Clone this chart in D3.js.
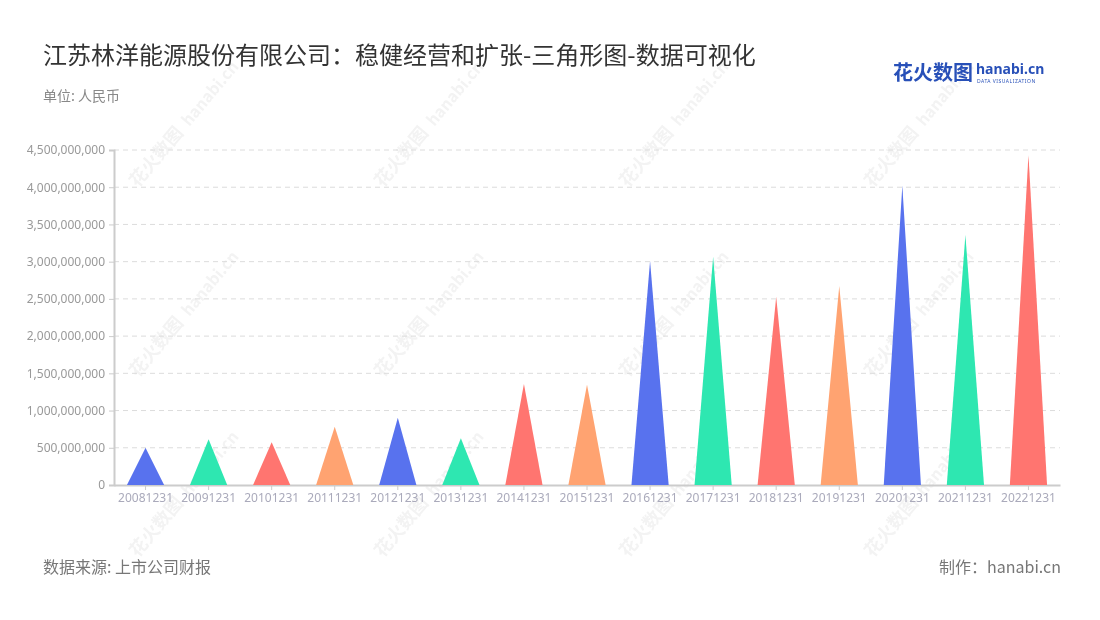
<!DOCTYPE html>
<html><head><meta charset="utf-8">
<script src="https://cdn.jsdelivr.net/npm/d3@7"></script>
<style>
body{margin:0;background:#fff;}
svg{display:block;font-family:"Noto Sans CJK SC","Noto Sans",sans-serif;}
</style></head>
<body><svg id="c" width="1100" height="620"></svg>
<script>
const categories = ["20081231","20091231","20101231","20111231","20121231","20131231","20141231","20151231","20161231","20171231","20181231","20191231","20201231","20211231","20221231"];
const values = [500000000,614000000,573000000,783000000,904000000,627000000,1357000000,1350000000,3009000000,3067000000,2530000000,2673000000,4020000000,3358000000,4433000000];
const yTicks = [0,500000000,1000000000,1500000000,2000000000,2500000000,3000000000,3500000000,4000000000,4500000000];
const palette = ["#5872ee","#2ee7b1","#ff7570","#ffa371"];
const titleText = "江苏林洋能源股份有限公司：稳健经营和扩张-三角形图-数据可视化";
const unitText = "单位: 人民币";
const sourceText = "数据来源: 上市公司财报";
const makerText = "制作：hanabi.cn";

const svg = d3.select("#c");
const m = {l:114, r:1060, t:150, b:485};

// watermarks
const wm = svg.append("g").attr("opacity",0.06);
[[170,150],[415,150],[660,150],[905,150],[170,340],[415,340],[660,340],[905,340],[170,520],[415,520],[660,520],[905,520]].forEach(([x,y])=>{
  const g = wm.append("g").attr("transform",`translate(${x},${y}) rotate(-50)`);
  g.append("text").attr("x",-50).attr("y",0).attr("font-size",18).attr("font-weight","bold").attr("fill","#333").text("花火数图");
  g.append("text").attr("x",30).attr("y",0).attr("font-size",16).attr("font-weight","bold").attr("fill","#333").text("hanabi.cn");
});

const x = d3.scaleBand().domain(categories).range([m.l,m.r]).paddingInner(0).paddingOuter(0);
const y = d3.scaleLinear().domain([0,4500000000]).range([m.b,m.t]);

// grid
svg.append("g").selectAll("line").data(yTicks.slice(1)).join("line")
  .attr("x1",m.l).attr("x2",m.r).attr("y1",d=>y(d)).attr("y2",d=>y(d))
  .attr("stroke","#dcdcdc").attr("stroke-dasharray","5,4");

// y axis
const ya = svg.append("g").attr("transform",`translate(${m.l},0)`)
  .call(d3.axisLeft(y).tickValues(yTicks).tickSize(5).tickPadding(4).tickFormat(d3.format(",")));
ya.select(".domain").attr("stroke","#cccccc").attr("stroke-width",2);
ya.selectAll(".tick line").attr("stroke","#cccccc");
ya.selectAll("text").attr("fill","#999").attr("font-size",12).attr("font-family","'Noto Sans',sans-serif");

// x axis
const xa = svg.append("g").attr("transform",`translate(0,${m.b})`)
  .call(d3.axisBottom(x).tickSize(5).tickPadding(3).tickSizeOuter(0));
xa.select(".domain").attr("stroke","#cccccc").attr("stroke-width",2);
xa.selectAll(".tick line").attr("stroke","#cccccc");
xa.selectAll("text").attr("fill","#aab").attr("font-size",12).attr("font-family","'Noto Sans',sans-serif");

// triangles
const bw = x.bandwidth()*0.59;
svg.append("g").selectAll("path").data(categories).join("path")
  .attr("d",(c,i)=>{
    const cx = x(c)+x.bandwidth()/2;
    return `M${cx-bw/2},${y(0)}L${cx},${y(values[i])}L${cx+bw/2},${y(0)}Z`;
  })
  .attr("fill",(c,i)=>palette[i%4]);

// titles
svg.append("text").attr("x",43).attr("y",64).attr("font-size",24).attr("fill","#333").text(titleText);
svg.append("text").attr("x",43).attr("y",101).attr("font-size",14).attr("fill","#888").text(unitText);
svg.append("text").attr("x",43).attr("y",573).attr("font-size",16).attr("fill","#777").text(sourceText);
svg.append("text").attr("x",1061).attr("y",573).attr("font-size",16).attr("fill","#777").attr("text-anchor","end").text(makerText);

// logo
svg.append("text").attr("x",893).attr("y",80).attr("font-size",20).attr("font-weight","bold").attr("fill","#2850b8").text("花火数图");
svg.append("text").attr("x",976).attr("y",74).attr("font-size",14).attr("font-weight","bold").attr("fill","#2850b8").attr("font-family","'Noto Sans',sans-serif").text("hanabi.cn");
svg.append("text").attr("x",977).attr("y",83).attr("font-size",5).attr("fill","#2850b8").attr("letter-spacing",0.5).attr("font-family","'Noto Sans',sans-serif").text("DATA VISUALIZATION");
</script></body></html>
